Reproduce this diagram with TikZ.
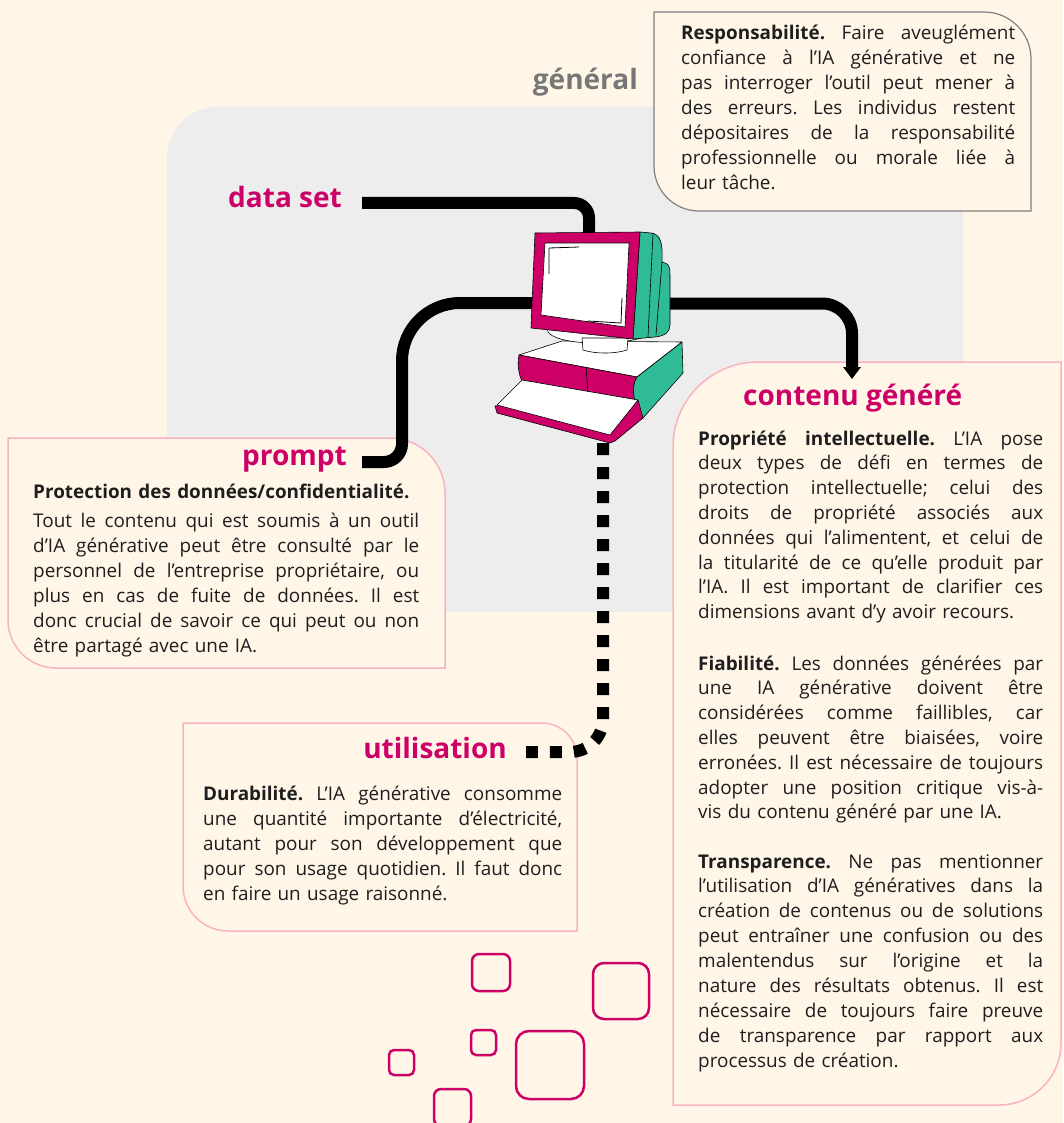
\documentclass[tikz,border=0pt]{standalone}
\usepackage{fontspec}
\setmainfont{Open Sans}
\usetikzlibrary{arrows.meta}
\definecolor{cream}{HTML}{FFF6E8}
\definecolor{grayzone}{HTML}{EDEDED}
\definecolor{mag}{HTML}{CC0066}
\definecolor{teal}{HTML}{2EBB95}
\definecolor{pinkb}{HTML}{F9B3C0}
\definecolor{grayb}{HTML}{808080}
\definecolor{graytxt}{HTML}{777777}
\definecolor{ink}{HTML}{1E1E1E}
\newdimen\jw
\newcommand\JL[1]{\leavevmode{\spaceskip=0.26em plus 1fil\relax\hbox to\jw{#1}}\\}
\frenchspacing
\begin{document}
\begin{tikzpicture}[x=1pt,y=-1pt,
  title/.style={font=\fontsize{28}{34}\selectfont\bfseries\frenchspacing, text=mag, inner sep=0pt},
  body/.style={font=\fontsize{18.9}{25}\selectfont\frenchspacing, text=ink, inner sep=0pt, anchor=base west, text width=#1, execute at begin node={\global\jw=#1\relax}},
  conn/.style={line width=12pt, draw=black},
  pinkbox/.style={draw=pinkb, line width=1.5pt, fill=cream},
  sq/.style={draw=mag, line width=2.5pt},
  pc/.style={draw=black, line width=0.6pt, line join=round}]
\useasboundingbox (0,0) rectangle (1063,1123);
\fill[cream] (0,0) rectangle (1063,1123);
% gray zone
\fill[grayzone] (217,107) -- (963,107) -- (963,612) -- (167,612) -- (167,157) .. controls (167,129.4) and (189.4,107) .. (217,107) -- cycle;
% boxes
\draw[draw=grayb, line width=1.2pt, fill=cream] (654,12) -- (984,12) .. controls (1010,12) and (1031,33) .. (1031,59) -- (1031,211) -- (699,211) .. controls (674.2,211) and (654,190.8) .. (654,166) -- cycle;
\draw[pinkbox] (8,438) -- (390,438) .. controls (420.4,438) and (445,462.6) .. (445,493) -- (445,668) -- (56,668) .. controls (29.5,668) and (8,646.5) .. (8,620) -- cycle;
\draw[pinkbox] (183,723) -- (542,723) .. controls (561.3,723) and (577,738.7) .. (577,758) -- (577,931) -- (228,931) .. controls (203.2,931) and (183,910.8) .. (183,886) -- cycle;
\draw[pinkbox] (758,362) -- (1061,362) -- (1061,1043) .. controls (1061,1077.2) and (1033.2,1105) .. (999,1105) -- (673,1105) -- (673,447) .. controls (673,400) and (711,362) .. (758,362) -- cycle;
% squares
\draw[sq, rounded corners=7] (472,954) rectangle (510,991);
\draw[sq, rounded corners=11] (593,963) rectangle (649,1019);
\draw[sq, rounded corners=5] (471,1030) rectangle (496,1055);
\draw[sq, rounded corners=13] (516,1031) rectangle (584,1099);
\draw[sq, rounded corners=5] (389,1050) rectangle (414,1075);
\draw[sq, rounded corners=7] (434,1089) rectangle (471,1126);
% titles
\node[title, text=graytxt, anchor=base east] (general) at (638,90) {général};
\node[title, anchor=base east] (dataset) at (342,208) {data set};
\node[title, anchor=base east] (prompt) at (347,465) {prompt};
\node[title, anchor=base east] (utilisation) at (507,758) {utilisation};
\node[title, anchor=base west] (contenu) at (743,405) {contenu généré};
% texts
\node[body=334pt] (resp) at (681,40) {\JL{\textbf{Responsabilité.} Faire aveuglément}\JL{confiance à l’IA générative et ne}\JL{pas interroger l’outil peut mener à}\JL{des erreurs. Les individus restent}\JL{dépositaires de la responsabilité}\JL{professionnelle ou morale liée à}leur tâche.};
\node[body=400pt] (protH) at (33,498) {\textbf{Protection des données/confidentialité.}};
\node[body=386pt] (prot) at (33,527) {\JL{Tout le contenu qui est soumis à un outil}\JL{d’IA générative peut être consulté par le}\JL{personnel de l’entreprise propriétaire, ou}\JL{plus en cas de fuite de données. Il est}\JL{donc crucial de savoir ce qui peut ou non}être partagé avec une IA.};
\node[body=359pt] (dura) at (203,800) {\JL{\textbf{Durabilité.} L’IA générative consomme}\JL{une quantité importante d'électricité,}\JL{autant pour son développement que}\JL{pour son usage quotidien. Il faut donc}en faire un usage raisonné.};
\node[body=345pt, font=\fontsize{18.9}{24.8}\selectfont] (prop) at (698,445) {\JL{\textbf{Propriété intellectuelle.} L’IA pose}\JL{deux types de défi en termes de}\JL{protection intellectuelle; celui des}\JL{droits de propriété associés aux}\JL{données qui l’alimentent, et celui de}\JL{la titularité de ce qu’elle produit par}\JL{l’IA. Il est important de clarifier ces}dimensions avant d’y avoir recours.};
\node[body=345pt, font=\fontsize{18.9}{24.8}\selectfont] (fiab) at (698,670) {\JL{\textbf{Fiabilité.} Les données générées par}\JL{une IA générative doivent être}\JL{considérées comme faillibles, car}\JL{elles peuvent être biaisées, voire}\JL{erronées. Il est nécessaire de toujours}\JL{adopter une position critique vis-à-}vis du contenu généré par une IA.};
\node[body=345pt, font=\fontsize{18.9}{24.9}\selectfont] (transp) at (698,868) {\JL{\textbf{Transparence.} Ne pas mentionner}\JL{l’utilisation d'IA génératives dans la}\JL{création de contenus ou de solutions}\JL{peut entraîner une confusion ou des}\JL{malentendus sur l’origine et la}\JL{nature des résultats obtenus. Il est}\JL{nécessaire de toujours faire preuve}\JL{de transparence par rapport aux}processus de création.};
% connector end points
\coordinate (dsA) at (362,203);
\coordinate (dsB) at (589,238);
\coordinate (prA) at (362,462);
\coordinate (prB) at (538,303);
\coordinate (cgA) at (665,303.5);
\coordinate (cgB) at (852,379);
\coordinate (utA) at (603,443);
\coordinate (utB) at (526,752);
% connectors
\draw[conn] (dsA) -- (574,203) .. controls (582.3,203) and (589,209.7) .. (589,218) -- (dsB);
\draw[conn] (prA) -- (384,462) .. controls (393.9,462) and (402,453.9) .. (402,444) -- (402,361) .. controls (402,329) and (428,303) .. (460,303) -- (prB);
\draw[conn, -{Triangle[width=17pt,length=12pt]}] (cgA) -- (822,303.5) .. controls (838.6,303.5) and (852,316.9) .. (852,333.5) -- (cgB);
\draw[conn, dash pattern=on 12pt off 12pt] (utA) -- (603,719) .. controls (603,737.2) and (588.2,752) .. (570,752) -- (utB);
% computer
\draw[pc, fill=white] (519,355) -- (562,341) -- (682,342) -- (637,377) -- cycle;
\draw[pc, fill=mag] (519,355) .. controls (517,365) and (519,375) .. (522,381) -- (637,400) .. controls (633,392) and (633,383) .. (637,377) -- cycle;
\draw[pc] (586,367) -- (588,393);
\draw[pc, fill=teal] (637,377) -- (682,342) -- (683,373) -- (643,418) .. controls (634,405) and (630,388) .. (637,377) -- cycle;
\draw[pc, fill=mag] (495,406) -- (497,413) -- (610,443) -- (615,441) -- (643,418) -- (638,400) -- cycle;
\draw[pc, fill=white] (497,405) -- (522,380) -- (638,400) -- (610,435) -- cycle;
\draw[pc, fill=white] (547,328) .. controls (546,340) and (580,344) .. (605,343) .. controls (630,342) and (650,338) .. (650,330) -- cycle;
\draw[pc, fill=white] (582,338) -- (583,350) .. controls (595,354) and (615,354) .. (627,350) -- (628,338) -- cycle;
\draw[pc, fill=teal] (640,232) -- (651,233) .. controls (660,234) and (663,242) .. (662,262) -- (665,263) .. controls (669,264) and (670,268) .. (670,275) -- (670,325) .. controls (670,332) and (665,336) .. (655,337) -- (633,339) -- cycle;
\draw[pc] (653,233) -- (648,337);
\draw[pc] (662,262) -- (656,335);
\draw[pc, fill=mag] (535,233) -- (640,232) -- (633,339) -- (531,328) -- cycle;
\draw[pc, fill=white] (545,243) -- (629,243) -- (625,327) -- (541,315) -- cycle;
\draw[pc, line width=0.8pt] (549,274) -- (549,248) -- (579,247);
\draw[pc, line width=0.8pt] (622,298) -- (621,323) -- (588,321);
\node[inner sep=0pt] (computer) at (600,340) {};
\end{tikzpicture}
\end{document}
